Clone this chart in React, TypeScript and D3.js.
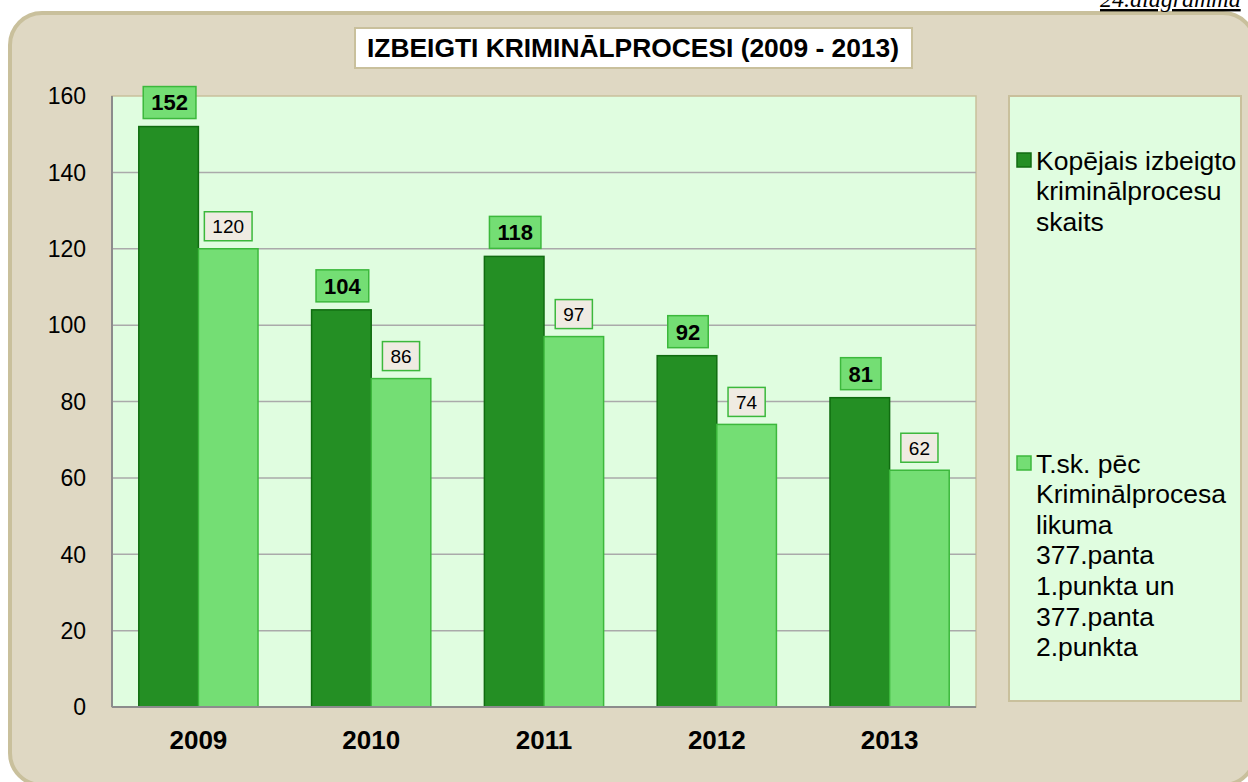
import React, { useEffect, useRef } from 'react';
import * as d3 from 'd3';

const years = ['2009', '2010', '2011', '2012', '2013'];
const totalValues = [152, 104, 118, 92, 81];
const articleValues = [120, 86, 97, 74, 62];
const yTicks = [0, 20, 40, 60, 80, 100, 120, 140, 160];
const titleText = 'IZBEIGTI KRIMINĀLPROCESI (2009 - 2013)';
const legendTotal = ['Kopējais izbeigto', 'kriminālprocesu', 'skaits'];
const legendArticle = ['T.sk. pēc', 'Kriminālprocesa', 'likuma', '377.panta', '1.punkta un', '377.panta', '2.punkta'];

const FONT = '"Liberation Sans", Arial, sans-serif';

const App = () => {
  const ref = useRef<SVGSVGElement>(null);

  useEffect(() => {
    const svg = d3.select(ref.current);
    svg.selectAll('*').remove();

    // panel
    svg.append('rect')
      .attr('x', 10).attr('y', 13).attr('width', 1245).attr('height', 772)
      .attr('rx', 32)
      .attr('fill', '#dfd8c3')
      .attr('stroke', '#c9c09c')
      .attr('stroke-width', 4);

    // page caption, cut off at top as in the source page
    svg.append('text')
      .attr('x', 1100).attr('y', 7)
      .attr('font-family', '"Liberation Serif", "Times New Roman", serif')
      .attr('font-style', 'italic')
      .attr('font-size', 24)
      .attr('text-decoration', 'underline')
      .attr('fill', '#000')
      .text('24.diagramma');

    const left = 112, right = 976, top = 96, bottom = 707;

    const x = d3.scaleBand().domain(years).range([left, right]).paddingInner(0.31).paddingOuter(0.155);
    const y = d3.scaleLinear().domain([0, 160]).range([bottom, top]);

    // plot area
    svg.append('rect')
      .attr('x', left).attr('y', top).attr('width', right - left).attr('height', bottom - top)
      .attr('fill', '#e0fde0')
      .attr('stroke', '#c9c09c')
      .attr('stroke-width', 1.5);

    // grid
    svg.append('g')
      .selectAll('line')
      .data(yTicks.filter(t => t > 0 && t < 160))
      .join('line')
      .attr('x1', left).attr('x2', right)
      .attr('y1', d => y(d)).attr('y2', d => y(d))
      .attr('stroke', '#aaaaaa')
      .attr('stroke-width', 1.5);

    // bars
    const bw = x.bandwidth() / 2;
    const groups = svg.append('g')
      .selectAll('g')
      .data(years)
      .join('g');

    groups.append('rect')
      .attr('x', d => x(d)!)
      .attr('y', (d, i) => y(totalValues[i]))
      .attr('width', bw)
      .attr('height', (d, i) => bottom - y(totalValues[i]))
      .attr('fill', '#248f24')
      .attr('stroke', '#106c10')
      .attr('stroke-width', 1.5);

    groups.append('rect')
      .attr('x', d => x(d)! + bw)
      .attr('y', (d, i) => y(articleValues[i]))
      .attr('width', bw)
      .attr('height', (d, i) => bottom - y(articleValues[i]))
      .attr('fill', '#74de74')
      .attr('stroke', '#3cb83c')
      .attr('stroke-width', 1.5);

    // axes lines
    svg.append('line')
      .attr('x1', left).attr('x2', left).attr('y1', top).attr('y2', bottom)
      .attr('stroke', '#8c8c8c').attr('stroke-width', 2);
    svg.append('line')
      .attr('x1', left).attr('x2', right).attr('y1', bottom).attr('y2', bottom)
      .attr('stroke', '#8c8c8c').attr('stroke-width', 2);

    // value labels
    const addLabel = (cx: number, barTop: number, value: number, bold: boolean) => {
      const g = svg.append('g');
      const t = g.append('text')
        .attr('x', cx).attr('y', barTop - 14)
        .attr('text-anchor', 'middle')
        .attr('font-family', FONT)
        .attr('font-size', bold ? 22 : 19)
        .attr('font-weight', bold ? 'bold' : 'normal')
        .attr('fill', '#000')
        .text(value);
      const w = (t.node() as SVGTextElement).getComputedTextLength();
      const padX = 8;
      const h = bold ? 32 : 29;
      g.insert('rect', 'text')
        .attr('x', cx - w / 2 - padX).attr('y', barTop - 8 - h)
        .attr('width', w + padX * 2).attr('height', h)
        .attr('fill', bold ? '#74de74' : '#efebe2')
        .attr('stroke', '#3cb83c')
        .attr('stroke-width', 1.5);
      t.attr('y', barTop - 8 - h / 2).attr('dy', '0.36em');
    };

    years.forEach((yr, i) => {
      addLabel(x(yr)! + bw / 2 + 1, y(totalValues[i]), totalValues[i], true);
      addLabel(x(yr)! + bw * 1.5, y(articleValues[i]), articleValues[i], false);
    });

    // y tick labels
    svg.append('g')
      .selectAll('text')
      .data(yTicks)
      .join('text')
      .attr('x', 86)
      .attr('y', d => y(d))
      .attr('dy', '0.36em')
      .attr('text-anchor', 'end')
      .attr('font-family', FONT)
      .attr('font-size', 23)
      .attr('fill', '#000')
      .text(d => d);

    // x labels
    svg.append('g')
      .selectAll('text')
      .data(years)
      .join('text')
      .attr('x', d => x(d)! + x.bandwidth() / 2)
      .attr('y', 749)
      .attr('text-anchor', 'middle')
      .attr('font-family', FONT)
      .attr('font-size', 26)
      .attr('font-weight', 'bold')
      .attr('fill', '#000')
      .text(d => d);

    // title
    svg.append('rect')
      .attr('x', 355).attr('y', 28).attr('width', 557).attr('height', 40)
      .attr('fill', '#ffffff')
      .attr('stroke', '#c9c09c')
      .attr('stroke-width', 2);
    svg.append('text')
      .attr('x', 633).attr('y', 48)
      .attr('dy', '0.36em')
      .attr('text-anchor', 'middle')
      .attr('font-family', FONT)
      .attr('font-size', 26)
      .attr('font-weight', 'bold')
      .attr('fill', '#000')
      .attr('textLength', 532)
      .attr('lengthAdjust', 'spacingAndGlyphs')
      .text(titleText);

    // legend
    svg.append('rect')
      .attr('x', 1009).attr('y', 96).attr('width', 232).attr('height', 605)
      .attr('fill', '#e0fde0')
      .attr('stroke', '#c9c09c')
      .attr('stroke-width', 2);

    const addLegend = (lines: string[], y0: number, fill: string, stroke: string) => {
      svg.append('rect')
        .attr('x', 1017).attr('y', y0 - 7).attr('width', 14).attr('height', 14)
        .attr('fill', fill).attr('stroke', stroke).attr('stroke-width', 1.5);
      svg.append('text')
        .attr('font-family', FONT)
        .attr('font-size', 26.5)
        .attr('fill', '#000')
        .selectAll('tspan')
        .data(lines)
        .join('tspan')
        .attr('x', 1036)
        .attr('y', (d, i) => y0 + i * 30.6)
        .attr('dy', '0.36em')
        .text(d => d);
    };
    addLegend(legendTotal, 160, '#248f24', '#106c10');
    addLegend(legendArticle, 463, '#74de74', '#3cb83c');
  }, []);

  return (
    <svg
      ref={ref}
      width={1248}
      height={782}
      style={{ position: 'fixed', left: 0, top: 0, display: 'block', background: '#ffffff' }}
    />
  );
};

export default App;
